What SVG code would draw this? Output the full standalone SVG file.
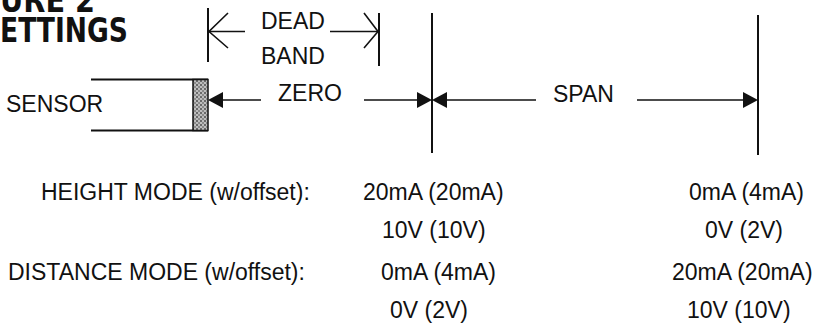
<svg xmlns="http://www.w3.org/2000/svg" width="825" height="333" viewBox="0 0 825 333">
<defs>
<style>
.t{font-family:"Liberation Sans",Arial,sans-serif;font-size:23px;fill:#111}
.ti{font-family:"DejaVu Sans",Verdana,sans-serif;font-weight:bold;font-size:33px;fill:#111}
.ln{stroke:#111;stroke-width:2;fill:none}
.thin{stroke:#111;stroke-width:1.6;fill:none}
.ah{fill:#111}
</style>
<pattern id="dots" width="4" height="4" patternUnits="userSpaceOnUse">
<rect width="4" height="4" fill="#bdbdbd"/>
<rect width="2" height="2" fill="#6a6a6a"/>
<rect x="2" y="2" width="2" height="2" fill="#8a8a8a"/>
</pattern>
</defs>
<rect width="825" height="333" fill="#fff"/>
<g id="title">
<text class="ti" x="0" y="12" textLength="95" lengthAdjust="spacingAndGlyphs">URE 2</text>
<text class="ti" x="0" y="42" textLength="128" lengthAdjust="spacingAndGlyphs">ETTINGS</text>
</g>
<g id="sensor">
<line class="ln" x1="91" y1="79.5" x2="208" y2="79.5"/>
<line class="ln" x1="91" y1="130.5" x2="208" y2="130.5"/>
<rect x="193" y="79.5" width="15" height="51" fill="url(#dots)" stroke="#111" stroke-width="1.5"/>
<text class="t" x="6" y="112">SENSOR</text>
</g>
<g id="deadband">
<line class="ln" x1="208" y1="8" x2="208" y2="62"/>
<line class="ln" x1="379" y1="13" x2="379" y2="66"/>
<text class="t" x="261" y="29">DEAD</text>
<text class="t" x="261" y="64">BAND</text>
</g>
<g id="zero-line">
<line class="ln" x1="432" y1="13" x2="432" y2="153"/>
</g>
<g id="span-line">
<line class="ln" x1="758" y1="15" x2="758" y2="155"/>
</g>
<g id="connectors">
<line class="thin" x1="208" y1="31.5" x2="245" y2="31.5"/>
<polyline class="thin" points="228,13 209,31.5 228,48"/>
<line class="thin" x1="330" y1="31.5" x2="378" y2="31.5"/>
<polyline class="thin" points="364,13 378,31.5 364,48"/>
<line class="thin" x1="220" y1="100" x2="261" y2="100"/>
<polygon class="ah" points="208,100 223,92 223,108"/>
<text class="t" x="278" y="101">ZERO</text>
<line class="thin" x1="364" y1="100" x2="420" y2="100"/>
<polygon class="ah" points="432,100 417,92 417,108"/>
<polygon class="ah" points="432,100 447,92 447,108"/>
<line class="thin" x1="444" y1="100" x2="536" y2="100"/>
<text class="t" x="553" y="102">SPAN</text>
<line class="thin" x1="637" y1="100" x2="746" y2="100"/>
<polygon class="ah" points="758,100 743,92 743,108"/>
</g>
<g id="table">
<text class="t" x="41" y="200">HEIGHT MODE (w/offset):</text>
<text class="t" x="363" y="200">20mA (20mA)</text>
<text class="t" x="382" y="238">10V (10V)</text>
<text class="t" x="689" y="200">0mA (4mA)</text>
<text class="t" x="705" y="238">0V (2V)</text>
<text class="t" x="8" y="280">DISTANCE MODE (w/offset):</text>
<text class="t" x="381" y="280">0mA (4mA)</text>
<text class="t" x="390" y="318">0V (2V)</text>
<text class="t" x="672" y="280">20mA (20mA)</text>
<text class="t" x="687" y="318">10V (10V)</text>
</g>
</svg>
